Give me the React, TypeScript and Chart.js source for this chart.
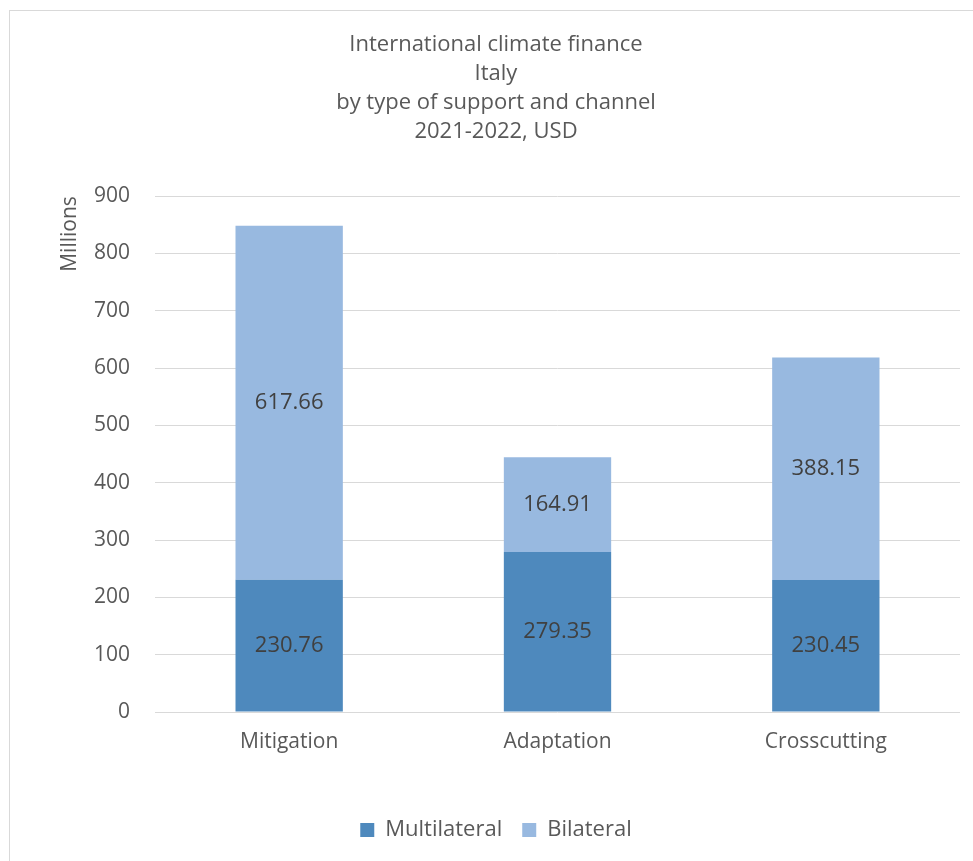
import React, { useEffect, useRef } from "react";
import { Chart, registerables } from "chart.js";

Chart.register(...registerables);

// Support types (categories)
const categories = ["Mitigation", "Adaptation", "Crosscutting"];
// Millions of USD by channel
const multilateral = [230.76, 279.35, 230.45];
const bilateral = [617.66, 164.91, 388.15];

const titleLines = [
  "International climate finance",
  "Italy",
  "by type of support and channel",
  "2021-2022, USD",
];

const yMin = 0;
const yMax = 900;
const yStep = 100;

const FONT = "'Open Sans', 'Liberation Sans', sans-serif";
const TEXT = "#595959";
const GRID = "#d9d9d9";

// Writes each segment's value in the middle of its bar piece
const segmentLabels = {
  id: "segmentLabels",
  afterDatasetsDraw(chart: any) {
    const { ctx } = chart;
    ctx.save();
    ctx.font = `22px ${FONT}`;
    ctx.fillStyle = "#404040";
    ctx.textAlign = "center";
    ctx.textBaseline = "middle";
    chart.data.datasets.forEach((ds: any, di: number) => {
      const meta = chart.getDatasetMeta(di);
      if (meta.hidden) return;
      meta.data.forEach((el: any, i: number) => {
        const { x, y, base } = el.getProps(["x", "y", "base"], true);
        const v = ds.data[i] as number;
        ctx.fillText(v.toFixed(2), x, (y + base) / 2);
      });
    });
    ctx.restore();
  },
};

export default function App() {
  const canvasRef = useRef<HTMLCanvasElement | null>(null);

  useEffect(() => {
    if (!canvasRef.current) return;
    const chart = new Chart(canvasRef.current, {
      type: "bar",
      data: {
        labels: categories,
        datasets: [
          {
            label: "Multilateral",
            data: multilateral,
            backgroundColor: "#4e89bd",
            categoryPercentage: 1,
            barPercentage: 0.4,
          },
          {
            label: "Bilateral",
            data: bilateral,
            backgroundColor: "#98b9e0",
            categoryPercentage: 1,
            barPercentage: 0.4,
          },
        ],
      },
      options: {
        responsive: false,
        animation: false,
        layout: { padding: { left: 22, right: 22, top: 0, bottom: 30 } },
        plugins: {
          title: {
            display: true,
            text: titleLines,
            color: TEXT,
            font: { family: FONT, size: 22, weight: "normal", lineHeight: 1.32 },
            padding: { top: 19.5, bottom: 49.5 },
          },
          legend: {
            position: "bottom",
            labels: {
              boxWidth: 14,
              boxHeight: 14,
              padding: 20,
              color: TEXT,
              font: { family: FONT, size: 22 },
            },
          },
          tooltip: { enabled: false },
        },
        scales: {
          x: {
            stacked: true,
            grid: { display: false, drawTicks: false },
            border: { display: false },
            ticks: {
              color: TEXT,
              padding: 17,
              font: { family: FONT, size: 21 },
            },
            afterFit: (s: any) => {
              s.height = 87;
            },
          },
          y: {
            stacked: true,
            min: yMin,
            max: yMax,
            ticks: {
              stepSize: yStep,
              color: TEXT,
              padding: 25,
              font: { family: FONT, size: 21 },
            },
            grid: { color: GRID, lineWidth: 1, drawTicks: false },
            border: { display: false },
            title: {
              display: true,
              text: "Millions",
              align: "end",
              color: TEXT,
              font: { family: FONT, size: 21 },
              padding: { top: 25.4, bottom: 0 },
            },
            afterFit: (s: any) => {
              s.width = 123;
            },
          },
        },
      },
      plugins: [segmentLabels],
    });
    return () => chart.destroy();
  }, []);

  return (
    <div
      style={{
        position: "fixed",
        left: 0,
        top: 0,
        width: 973,
        height: 861,
        overflow: "hidden",
        background: "#ffffff",
      }}
    >
      <div
        style={{
          position: "absolute",
          left: 9,
          top: 10,
          width: 1000,
          height: 900,
          borderTop: "1px solid #d9d9d9",
          borderLeft: "1px solid #d9d9d9",
          boxSizing: "border-box",
        }}
      >
        <canvas ref={canvasRef} width={972} height={870} style={{ display: "block" }} />
      </div>
    </div>
  );
}
